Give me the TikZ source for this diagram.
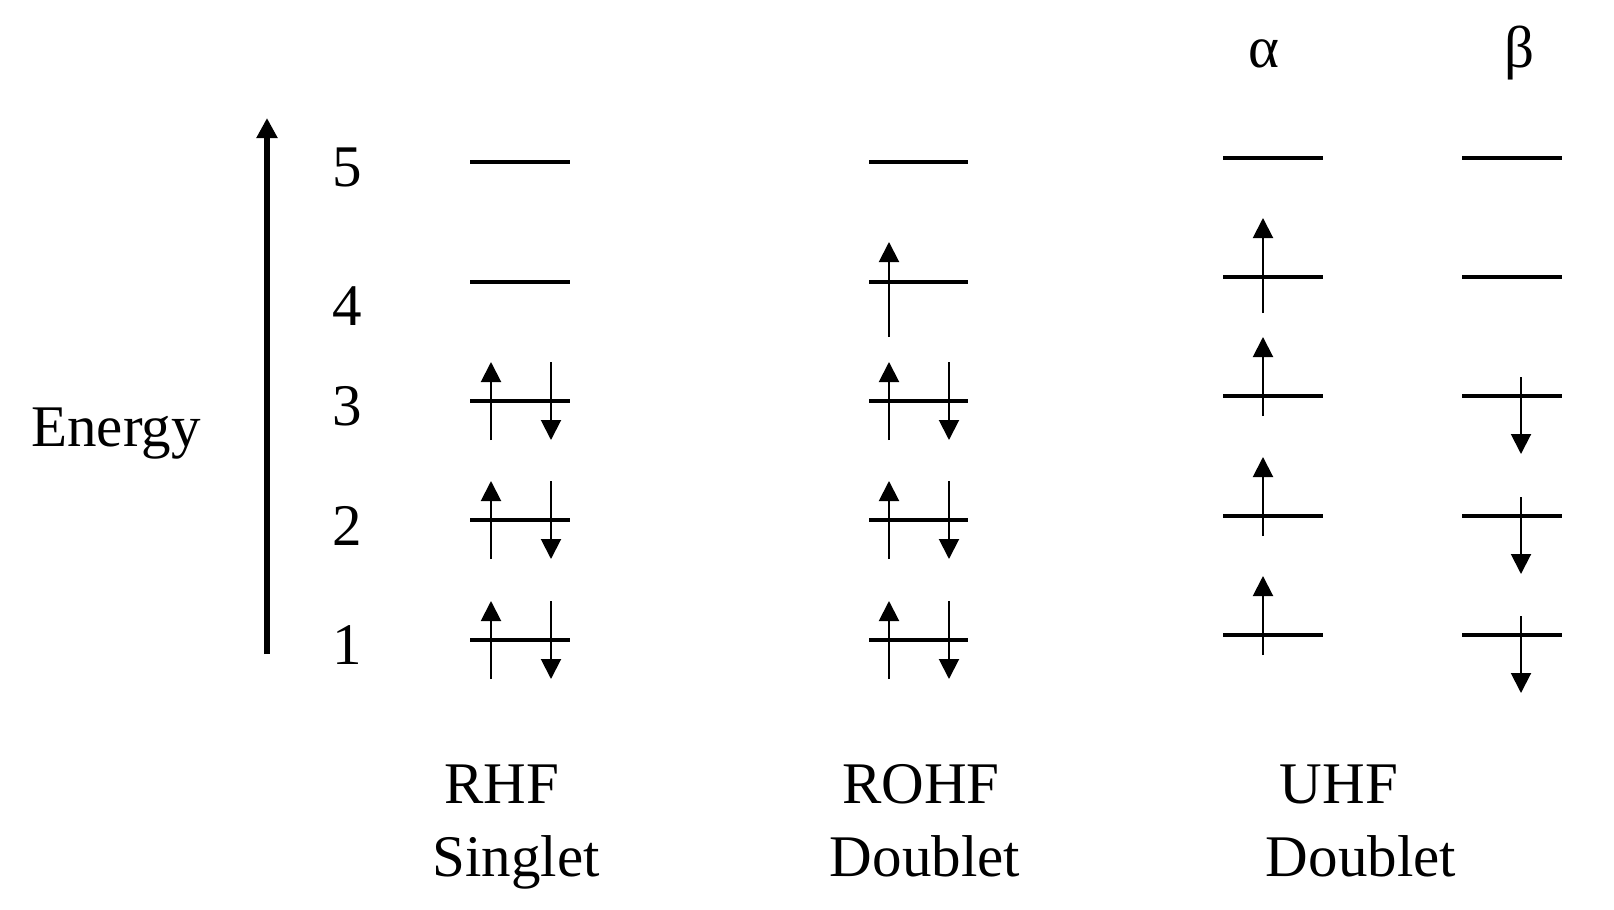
\documentclass[tikz,border=0pt]{standalone}
\usepackage{fontspec}
\setmainfont{Liberation Serif}
\usetikzlibrary{arrows.meta}
\begin{document}
\begin{tikzpicture}[x=0.5pt,y=-0.5pt,
  levelline/.style={line width=2pt},
  spin/.style={line width=1pt,-{Triangle[width=10pt,length=10pt]}},
  energyaxis/.style={line width=3pt,-{Triangle[width=10pt,length=10pt]}},
  lbl/.style={font=\fontsize{29.5}{35}\selectfont, anchor=base, inner sep=0pt}]
\useasboundingbox (0,0) rectangle (1614,910);

% energy axis
\coordinate (eb) at (267,654);
\coordinate (et) at (267,118);
\draw[energyaxis] (eb) -- (et);
\node[lbl] (energy) at (116,446) {Energy};

% level numbers
\node[lbl] (n5) at (347,186) {5};
\node[lbl] (n4) at (347,325) {4};
\node[lbl] (n3) at (347,425) {3};
\node[lbl] (n2) at (347,545) {2};
\node[lbl] (n1) at (347,664) {1};

% RHF and ROHF levels
\foreach \y [count=\i] in {640,520,401,282,162} {
  \draw[levelline] (470,\y) coordinate (rhfL\i) -- (570,\y) coordinate (rhfR\i);
  \draw[levelline] (869,\y) coordinate (rohfL\i) -- (968,\y) coordinate (rohfR\i);
}
% RHF and ROHF electrons (levels 1-3 doubly occupied)
\foreach \y in {640,520,401} {
  \draw[spin] (491,\y+39) -- (491,\y-39);
  \draw[spin] (551,\y-39) -- (551,\y+39);
  \draw[spin] (889,\y+39) -- (889,\y-39);
  \draw[spin] (949,\y-39) -- (949,\y+39);
}
% ROHF singly occupied level 4
\draw[spin] (889,337) -- (889,242);

% UHF levels
\foreach \y [count=\i] in {635,516,396,277,158} {
  \draw[levelline] (1223,\y) coordinate (aL\i) -- (1323,\y) coordinate (aR\i);
  \draw[levelline] (1462,\y) coordinate (bL\i) -- (1562,\y) coordinate (bR\i);
}
% alpha and beta electrons
\foreach \y in {635,516,396} {
  \draw[spin] (1263,\y+20) -- (1263,\y-59);
  \draw[spin] (1521,\y-19) -- (1521,\y+58);
}
\draw[spin] (1263,313) -- (1263,218);

% spin labels
\node[lbl] (alpha) at (1264,68) {α};
\node[lbl] (beta) at (1519,68) {β};

% method labels
\node[lbl] (rhf) at (502,803) {RHF};
\node[lbl] (rhfs) at (516,876) {Singlet};
\node[lbl] (rohf) at (921,803) {ROHF};
\node[lbl] (rohfs) at (925,876) {Doublet};
\node[lbl] (uhf) at (1339,803) {UHF};
\node[lbl] (uhfs) at (1361,876) {Doublet};
\end{tikzpicture}
\end{document}
